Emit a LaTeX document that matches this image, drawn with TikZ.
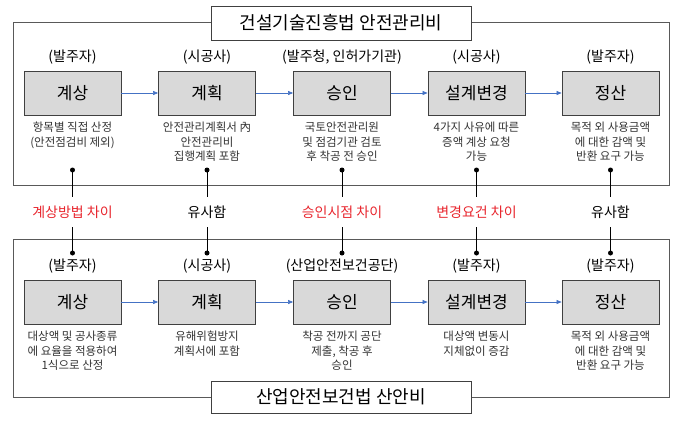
\documentclass[tikz,border=0pt]{standalone}
\usepackage{fontspec}
\setmainfont{Noto Sans CJK KR}
\usetikzlibrary{arrows.meta}
\definecolor{boxfill}{HTML}{D9D9D9}
\definecolor{boxline}{HTML}{404040}
\definecolor{framegray}{HTML}{595959}
\definecolor{flowblue}{HTML}{4472C4}
\definecolor{diffred}{HTML}{E8262E}
\definecolor{desccol}{HTML}{333333}
\begin{document}
\begin{tikzpicture}[x=1pt,y=-1pt,
  stagebox/.style={draw=boxline, fill=boxfill, minimum width=97pt, minimum height=44pt, inner sep=0pt, line width=0.8pt, font=\fontsize{17}{20}\selectfont},
  role/.style={inner sep=0pt, font=\fontsize{14}{16}\selectfont},
  desc/.style={anchor=north, align=center, inner sep=0pt, text=desccol, font=\fontsize{11.5}{14.5}\selectfont},
  flow/.style={draw=flowblue, line width=0.6pt, -{Triangle[length=5pt,width=4pt]}},
  cmp/.style={inner sep=0pt, minimum height=30pt, font=\fontsize{14}{16}\selectfont},
  diff/.style={cmp, text=diffred},
  dotc/.style={circle, fill=black, inner sep=0pt, minimum size=5pt},
  link/.style={draw=black, line width=0.6pt},
  framebox/.style={draw=framegray, line width=0.8pt},
  titlebox/.style={draw=boxline, fill=white, line width=0.8pt, inner sep=0pt, font=\fontsize{18}{21}\selectfont}
]
\useasboundingbox (0,0) rectangle (700,429);
% frames
\draw[framebox] (13,22) rectangle (669,185);
\draw[framebox] (13,239) rectangle (669,397);
\node[titlebox, minimum width=260pt, minimum height=34pt] (ttop) at (341,23) {건설기술진흥법 안전관리비};
\node[titlebox, minimum width=260pt, minimum height=32pt] (tbot) at (341,397) {산업안전보건법 산안비};

% top row
\node[role] (r1) at (72.5,57) {(발주자)};
\node[role] (r2) at (207,57) {(시공사)};
\node[role] (r3) at (342,57) {(발주청, 인허가기관)};
\node[role] (r4) at (476.5,57) {(시공사)};
\node[role] (r5) at (610.5,57) {(발주자)};
\node[stagebox] (a1) at (72.5,93) {계상};
\node[stagebox] (a2) at (207,93) {계획};
\node[stagebox] (a3) at (342,93) {승인};
\node[stagebox] (a4) at (476.5,93) {설계변경};
\node[stagebox] (a5) at (610.5,93) {정산};
\draw[flow] (a1) -- (a2);
\draw[flow] (a2) -- (a3);
\draw[flow] (a3) -- (a4);
\draw[flow] (a4) -- (a5);
\node[desc] (d1) at (72.5,122) {항목별 직접 산정\\(안전점검비 제외)};
\node[desc] (d2) at (207,122) {안전관리계획서 內\\안전관리비\\집행계획 포함};
\node[desc] (d3) at (342,122) {국토안전관리원\\및 점검기관 검토\\후 착공 전 승인};
\node[desc] (d4) at (476.5,122) {4가지 사유에 따른\\증액 계상 요청\\가능};
\node[desc] (d5) at (610.5,122) {목적 외 사용금액\\에 대한 감액 및\\반환 요구 가능};

% comparison labels
\node[diff] (c1) at (72.5,212) {계상방법 차이};
\node[cmp] (c2) at (207,212) {유사함};
\node[diff] (c3) at (342,212) {승인시점 차이};
\node[diff] (c4) at (476.5,212) {변경요건 차이};
\node[cmp] (c5) at (610.5,212) {유사함};

% dots
\node[dotc] (p1) at (72.5,170) {};
\node[dotc] (p2) at (207,170) {};
\node[dotc] (p3) at (342,170) {};
\node[dotc] (p4) at (476.5,170) {};
\node[dotc] (p5) at (610.5,170) {};
\node[dotc] (q1) at (72.5,253) {};
\node[dotc] (q2) at (207,253) {};
\node[dotc] (q3) at (342,253) {};
\node[dotc] (q4) at (476.5,253) {};
\node[dotc] (q5) at (610.5,253) {};
\foreach \i in {1,...,5}{
  \draw[link] (p\i.center) -- (c\i.north);
  \draw[link] (c\i.south) -- (q\i.center);
}

% bottom row
\node[role] (s1) at (72.5,266) {(발주자)};
\node[role] (s2) at (207,266) {(시공사)};
\node[role] (s3) at (342,266) {(산업안전보건공단)};
\node[role] (s4) at (476.5,266) {(발주자)};
\node[role] (s5) at (610.5,266) {(발주자)};
\node[stagebox] (b1) at (72.5,302) {계상};
\node[stagebox] (b2) at (207,302) {계획};
\node[stagebox] (b3) at (342,302) {승인};
\node[stagebox] (b4) at (476.5,302) {설계변경};
\node[stagebox] (b5) at (610.5,302) {정산};
\draw[flow] (b1) -- (b2);
\draw[flow] (b2) -- (b3);
\draw[flow] (b3) -- (b4);
\draw[flow] (b4) -- (b5);
\node[desc] (e1) at (72.5,331) {대상액 및 공사종류\\에 요율을 적용하여\\1식으로 산정};
\node[desc] (e2) at (207,331) {유해위험방지\\계획서에 포함};
\node[desc] (e3) at (342,331) {착공 전까지 공단\\제출, 착공 후\\승인};
\node[desc] (e4) at (476.5,331) {대상액 변동시\\지체없이 증감};
\node[desc] (e5) at (610.5,331) {목적 외 사용금액\\에 대한 감액 및\\반환 요구 가능};
\end{tikzpicture}
\end{document}
